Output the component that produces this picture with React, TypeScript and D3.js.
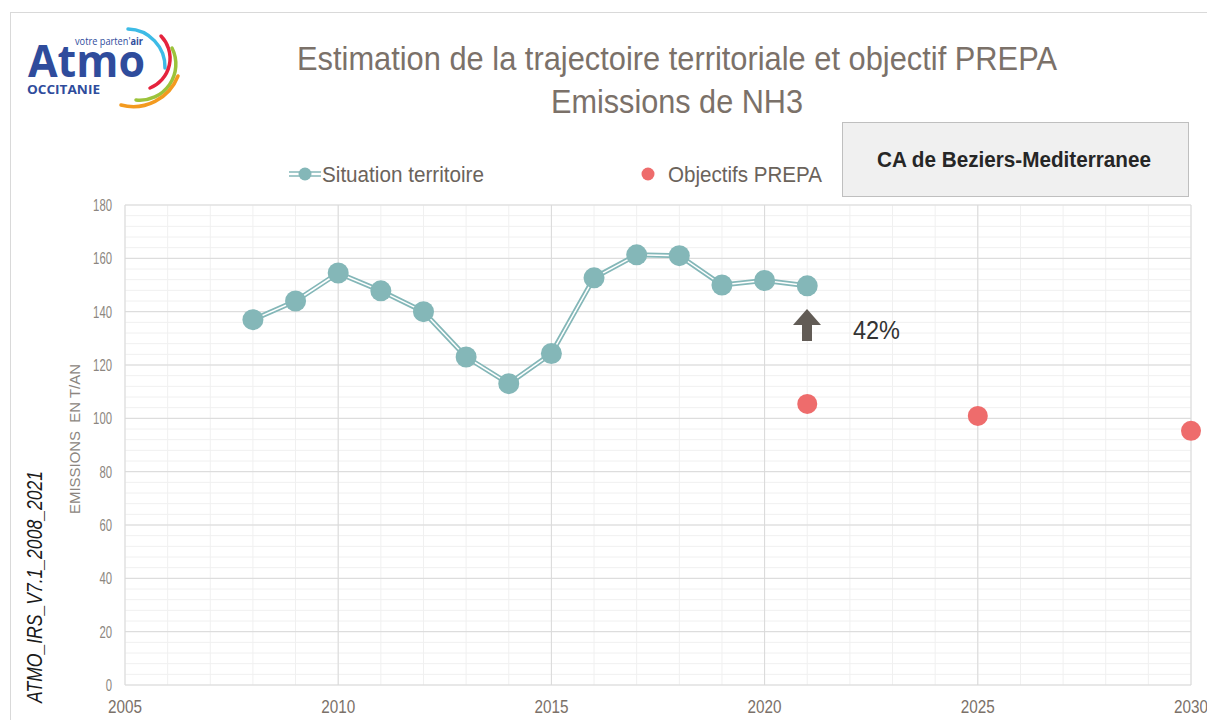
import React from "react";
import * as d3 from "d3";

const years = [2008, 2009, 2010, 2011, 2012, 2013, 2014, 2015, 2016, 2017, 2018, 2019, 2020, 2021];
const emissions = [137, 144, 154.5, 147.8, 140, 123, 113, 124.3, 152.7, 161.3, 161, 150, 151.7, 149.7];
const objYears = [2021, 2025, 2030];
const objValues = [105.4, 100.9, 95.3];
const xTicks = [2005, 2010, 2015, 2020, 2025, 2030];
const yTicks = [0, 20, 40, 60, 80, 100, 120, 140, 160, 180];

const W = 1207, H = 720;
const sans = "'Liberation Sans', Arial, sans-serif";

export default function App() {
  const x = d3.scaleLinear().domain([2005, 2030]).range([125, 1191]);
  const y = d3.scaleLinear().domain([0, 180]).range([685, 205]);
  const minorY = d3.range(0, 181, 4);
  const minorX = d3.range(2005, 2031, 1);
  const line = d3.line<number>().x((_, i) => x(years[i])).y((d) => y(d));
  const path = line(emissions) || "";
  return (
    <svg width={W} height={H} style={{ position: "absolute", left: 0, top: 0, background: "#fff" }}>
      <rect x={10.5} y={12.5} width={1200} height={720} fill="#fff" stroke="#d9d9d9" />
      {/* logo */}
      <g>
        <text x={28} y={77} fontFamily="'Open Sans', 'DejaVu Sans', sans-serif" fontWeight="bold" fontSize={44} fill="#2f4c9c" textLength={117} lengthAdjust="spacingAndGlyphs">Atmo</text>
        <text x={75} y={45} fontFamily="'Open Sans', sans-serif" fontSize={10} fill="#2f4c9c" textLength={68} lengthAdjust="spacingAndGlyphs">votre parten'<tspan fontWeight="bold">air</tspan></text>
        <text x={27} y={94} fontFamily="'Open Sans', sans-serif" fontWeight="bold" fontSize={11.5} fill="#2f4c9c" textLength={73} lengthAdjust="spacingAndGlyphs">OCCITANIE</text>
        <g fill="none" strokeWidth={3.5} strokeLinecap="round">
          <path d="M128,29 A38,38 0 0 1 165,68" stroke="#3dbbe6" />
          <path d="M161,36 A32,32 0 0 1 150,88" stroke="#e5233d" />
          <path d="M172,48 A36,36 0 0 1 136,100" stroke="#9cc33b" />
          <path d="M178,76 A48,48 0 0 1 121,105" stroke="#f39a1f" />
        </g>
      </g>
      {/* titles */}
      <text x={297} y={70} fontFamily={sans} fontSize={33} fill="#7b7169" textLength={760} lengthAdjust="spacingAndGlyphs">Estimation de la trajectoire territoriale et objectif PREPA</text>
      <text x={551} y={113} fontFamily={sans} fontSize={33} fill="#7b7169" textLength={252} lengthAdjust="spacingAndGlyphs">Emissions de NH3</text>
      {/* box */}
      <rect x={842.5} y={122.5} width={346} height={74} fill="#f0f0f0" stroke="#bfbfbf" />
      <text x={877} y={167} fontFamily={sans} fontWeight="bold" fontSize={22} fill="#262626" textLength={274} lengthAdjust="spacingAndGlyphs">CA de Beziers-Mediterranee</text>
      {/* legend */}
      <g>
        <line x1={289} x2={321} y1={172} y2={172} stroke="#84b7b8" strokeWidth={1.5} />
        <line x1={289} x2={321} y1={176} y2={176} stroke="#84b7b8" strokeWidth={1.5} />
        <circle cx={305} cy={174} r={6.5} fill="#84b7b8" />
        <text x={322} y={182} fontFamily={sans} fontSize={22} fill="#6b635b" textLength={162} lengthAdjust="spacingAndGlyphs">Situation territoire</text>
        <circle cx={648} cy={174} r={6.5} fill="#ee6c6c" />
        <text x={668} y={182} fontFamily={sans} fontSize={22} fill="#6b635b" textLength={154} lengthAdjust="spacingAndGlyphs">Objectifs PREPA</text>
      </g>
      {/* grid */}
      <g>
        {minorY.map((v) => (
          <line key={"my" + v} x1={125} x2={1191} y1={y(v)} y2={y(v)} stroke="#f0f0f0" strokeWidth={1} />
        ))}
        {minorX.map((v) => (
          <line key={"mx" + v} x1={x(v)} x2={x(v)} y1={205} y2={685} stroke="#f0f0f0" strokeWidth={1} />
        ))}
        {yTicks.map((v) => (
          <line key={"y" + v} x1={125} x2={1191} y1={y(v)} y2={y(v)} stroke="#d9d9d9" strokeWidth={1} />
        ))}
        {xTicks.map((v) => (
          <line key={"x" + v} x1={x(v)} x2={x(v)} y1={205} y2={685} stroke="#d9d9d9" strokeWidth={1} />
        ))}
      </g>
      {/* axis labels */}
      {yTicks.map((v) => (
        <text key={"yt" + v} x={112} y={y(v) + 6} textAnchor="end" fontFamily={sans} fontSize={17} fill="#8c8680" textLength={String(v).length * 6.3} lengthAdjust="spacingAndGlyphs">{v}</text>
      ))}
      {xTicks.map((v) => (
        <text key={"xt" + v} x={x(v)} y={713} textAnchor="middle" fontFamily={sans} fontSize={19} fill="#7b7169" textLength={34} lengthAdjust="spacingAndGlyphs">{v}</text>
      ))}
      <text transform="translate(80,439) rotate(-90)" textAnchor="middle" fontFamily={sans} fontSize={14} fill="#8c8680" textLength={150} lengthAdjust="spacingAndGlyphs" xmlSpace="preserve">EMISSIONS  EN T/AN</text>
      <text transform="translate(42,587) rotate(-90)" textAnchor="middle" fontFamily={sans} fontStyle="italic" fontSize={22} fill="#1a1a1a" textLength={232} lengthAdjust="spacingAndGlyphs">ATMO_IRS_V7.1_2008_2021</text>
      {/* series */}
      <path d={path} fill="none" stroke="#84b7b8" strokeWidth={5} strokeLinejoin="round" />
      <path d={path} fill="none" stroke="#fff" strokeWidth={1.5} strokeLinejoin="round" />
      {emissions.map((v, i) => (
        <circle key={"e" + i} cx={x(years[i])} cy={y(v)} r={10.5} fill="#84b7b8" />
      ))}
      {objValues.map((v, i) => (
        <circle key={"o" + i} cx={x(objYears[i])} cy={y(v)} r={10} fill="#ee6c6c" />
      ))}
      {/* arrow */}
      <path d="M807,309 L821,325 L812,325 L812,341 L802,341 L802,325 L793,325 Z" fill="#625c56" />
      <text x={853} y={339} fontFamily={sans} fontSize={25} fill="#333" textLength={47} lengthAdjust="spacingAndGlyphs">42%</text>
    </svg>
  );
}
